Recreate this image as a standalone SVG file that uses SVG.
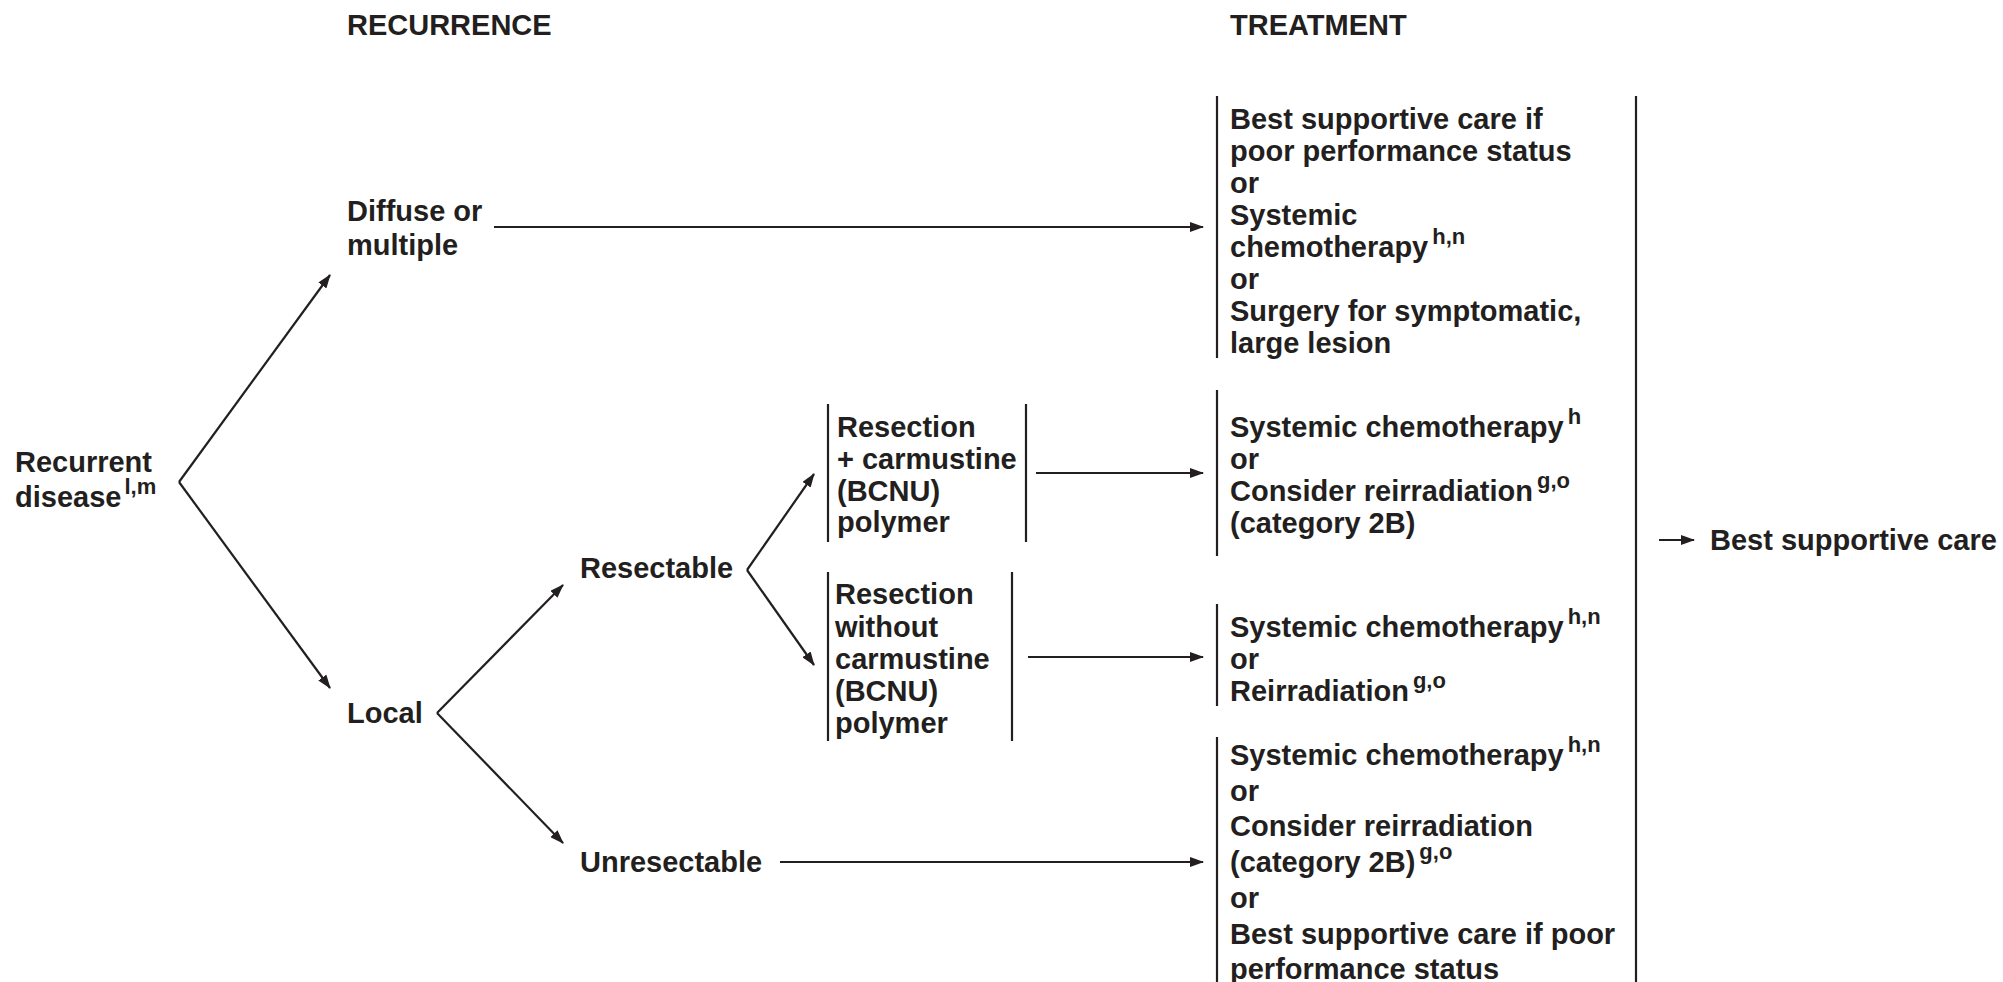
<svg xmlns="http://www.w3.org/2000/svg" width="2003" height="982" viewBox="0 0 2003 982">
<style>
text{font-family:"Liberation Sans",Arial,sans-serif;font-weight:bold;font-size:29px;fill:#231f20}
.sup{font-size:22px}
.bar{stroke:#231f20;stroke-width:2.2;fill:none}
.conn{stroke:#231f20;stroke-width:2.2;fill:none;marker-end:url(#ah)}
</style>
<defs>
<marker id="ah" viewBox="0 0 14 10" refX="13" refY="5" markerWidth="14" markerHeight="10" markerUnits="userSpaceOnUse" orient="auto">
<path d="M0,0 L14,5 L0,10 z" fill="#231f20"/>
</marker>
</defs>
<rect width="2003" height="982" fill="#ffffff"/>
<g id="headers">
<text x="347" y="35">RECURRENCE</text>
<text x="1230" y="35">TREATMENT</text>
</g>
<g id="connectors">
<line class="conn" x1="179" y1="482" x2="330" y2="275"/>
<line class="conn" x1="179" y1="482" x2="330" y2="688"/>
<line class="conn" x1="437" y1="713" x2="563" y2="585"/>
<line class="conn" x1="437" y1="713" x2="563" y2="843"/>
<line class="conn" x1="747" y1="570" x2="814" y2="474"/>
<line class="conn" x1="747" y1="570" x2="814" y2="665"/>
<line class="conn" x1="494" y1="227" x2="1203" y2="227"/>
<line class="conn" x1="1036" y1="473" x2="1203" y2="473"/>
<line class="conn" x1="1028" y1="657" x2="1203" y2="657"/>
<line class="conn" x1="780" y1="862" x2="1203" y2="862"/>
<line class="conn" x1="1659" y1="540" x2="1694" y2="540"/>
</g>
<g id="recurrent">
<text x="15" y="472">Recurrent</text>
<text x="15" y="507">disease<tspan class="sup" dx="3" dy="-13">l,m</tspan></text>
</g>
<g id="diffuse">
<text x="347" y="221">Diffuse or</text>
<text x="347" y="255">multiple</text>
</g>
<g id="local"><text x="347" y="723">Local</text></g>
<g id="resectable"><text x="580" y="578">Resectable</text></g>
<g id="unresectable"><text x="580" y="872">Unresectable</text></g>
<g id="resection-bcnu">
<line class="bar" x1="828" y1="404" x2="828" y2="542"/>
<line class="bar" x1="1026" y1="404" x2="1026" y2="542"/>
<text x="837" y="437">Resection</text>
<text x="837" y="469">+ carmustine</text>
<text x="837" y="501">(BCNU)</text>
<text x="837" y="532">polymer</text>
</g>
<g id="resection-no-bcnu">
<line class="bar" x1="828" y1="572" x2="828" y2="741"/>
<line class="bar" x1="1012" y1="572" x2="1012" y2="741"/>
<text x="835" y="604">Resection</text>
<text x="835" y="637">without</text>
<text x="835" y="669">carmustine</text>
<text x="835" y="701">(BCNU)</text>
<text x="835" y="733">polymer</text>
</g>
<g id="treat-diffuse">
<line class="bar" x1="1217" y1="96" x2="1217" y2="358"/>
<text x="1230" y="129">Best supportive care if</text>
<text x="1230" y="161">poor performance status</text>
<text x="1230" y="193">or</text>
<text x="1230" y="225">Systemic</text>
<text x="1230" y="257">chemotherapy<tspan class="sup" dx="4" dy="-13">h,n</tspan></text>
<text x="1230" y="289">or</text>
<text x="1230" y="321">Surgery for symptomatic,</text>
<text x="1230" y="353">large lesion</text>
</g>
<g id="treat-bcnu">
<line class="bar" x1="1217" y1="390" x2="1217" y2="556"/>
<text x="1230" y="437">Systemic chemotherapy<tspan class="sup" dx="4" dy="-13">h</tspan></text>
<text x="1230" y="469">or</text>
<text x="1230" y="501">Consider reirradiation<tspan class="sup" dx="4" dy="-13">g,o</tspan></text>
<text x="1230" y="533">(category 2B)</text>
</g>
<g id="treat-no-bcnu">
<line class="bar" x1="1217" y1="604" x2="1217" y2="706"/>
<text x="1230" y="637">Systemic chemotherapy<tspan class="sup" dx="4" dy="-13">h,n</tspan></text>
<text x="1230" y="669">or</text>
<text x="1230" y="701">Reirradiation<tspan class="sup" dx="4" dy="-13">g,o</tspan></text>
</g>
<g id="treat-unresectable">
<line class="bar" x1="1217" y1="737" x2="1217" y2="982"/>
<text x="1230" y="765">Systemic chemotherapy<tspan class="sup" dx="4" dy="-13">h,n</tspan></text>
<text x="1230" y="801">or</text>
<text x="1230" y="836">Consider reirradiation</text>
<text x="1230" y="872">(category 2B)<tspan class="sup" dx="4" dy="-13">g,o</tspan></text>
<text x="1230" y="908">or</text>
<text x="1230" y="944">Best supportive care if poor</text>
<text x="1230" y="979">performance status</text>
</g>
<g id="best-supportive">
<line class="bar" x1="1636" y1="96" x2="1636" y2="982"/>
<text x="1710" y="550">Best supportive care</text>
</g>
</svg>
